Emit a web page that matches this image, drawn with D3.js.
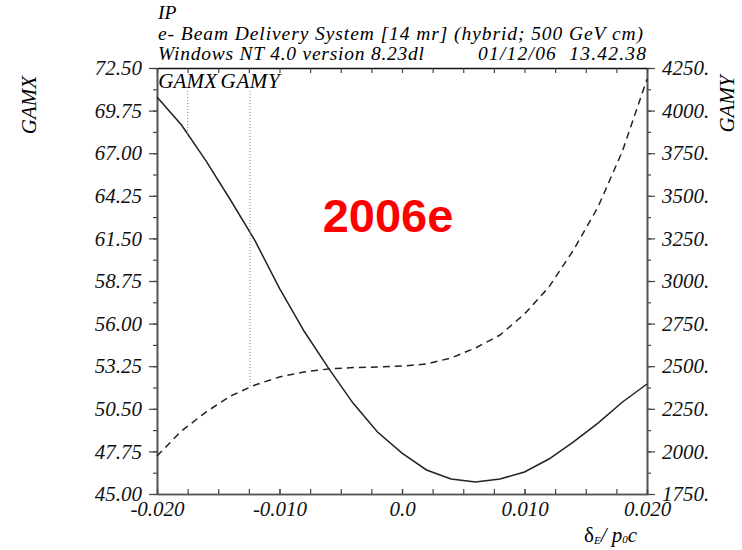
<!DOCTYPE html>
<html>
<head>
<meta charset="utf-8">
<script src="https://cdn.jsdelivr.net/npm/d3@7"></script>
<style>
  body { margin: 0; background: #fff; }
  svg text { font-family: "Liberation Serif", "DejaVu Serif", serif; font-style: italic; }
</style>
</head>
<body>
<div id="chart"></div>
<script>
!(function (d3) {

  // momentum deviation (x) and the two beam functions
  var deltaE = [-0.020, -0.018, -0.016, -0.014, -0.012, -0.010, -0.008, -0.006, -0.004, -0.002,
                 0.000,  0.002,  0.004,  0.006,  0.008,  0.010,  0.012,  0.014,  0.016,  0.018, 0.020];
  var gamx = [70.63, 68.82, 66.50, 63.98, 61.35, 58.27, 55.52, 53.13, 50.87, 49.00,
              47.64, 46.55, 45.97, 45.77, 45.97, 46.42, 47.26, 48.36, 49.58, 50.94, 52.10];
  var gamy = [1973, 2120, 2231, 2325, 2390, 2437, 2466, 2484, 2492, 2495,
              2501, 2513, 2548, 2607, 2683, 2806, 2965, 3182, 3434, 3763, 4185];

  var leftTicks  = [45.00, 47.75, 50.50, 53.25, 56.00, 58.75, 61.50, 64.25, 67.00, 69.75, 72.50];
  var rightTicks = [1750, 2000, 2250, 2500, 2750, 3000, 3250, 3500, 3750, 4000, 4250];
  var xTicks      = [-0.020, -0.010, 0.0, 0.010, 0.020];
  var xTickLabels = ["-0.020", "-0.010", "0.0", "0.010", "0.020"];

  // marker positions for the GAMX / GAMY labels
  var markers = [{name: "GAMX", x: -0.0175}, {name: "GAMY", x: -0.0124}];

  var titleLines = ["IP", "e- Beam Delivery System [14 mr] (hybrid; 500 GeV cm)", "Windows NT 4.0 version 8.23dl"];
  var titleWidths = [null, 485, 266];
  var stamp = "01/12/06  13.42.38";

  var margin = {top: 68, right: 95, bottom: 56, left: 157},
      width = 742 - margin.left - margin.right,
      height = 550 - margin.top - margin.bottom;

  var fs = "21px";

  var x = d3.scaleLinear().domain([-0.02, 0.02]).range([0, width]);
  var yL = d3.scaleLinear().domain([45, 72.5]).range([height, 0]);
  var yR = d3.scaleLinear().domain([1750, 4250]).range([height, 0]);

  var svg = d3.select("#chart").append("svg")
      .attr("width", 742)
      .attr("height", 550);
  var g = svg.append("g")
      .attr("transform", "translate(" + margin.left + "," + margin.top + ")");

  // header
  svg.selectAll(".title")
      .data(titleLines)
    .enter().append("text")
      .attr("x", margin.left + 1)
      .attr("y", function(d, i) { return 19 + i * 20.5; })
      .attr("textLength", function(d, i) { return titleWidths[i]; })
      .style("font-size", "19.5px")
      .text(function(d) { return d; });
  svg.append("text")
      .attr("x", margin.left + width - 169)
      .attr("y", 60)
      .attr("textLength", 168)
      .style("white-space", "pre")
      .style("font-size", "19.5px")
      .text(stamp);

  // minor ticks
  var minorL = d3.range(0, 21).map(function(i) { return 45 + i * 1.375; });
  var minorR = d3.range(0, 21).map(function(i) { return 1750 + i * 125; });
  var minorX = d3.range(0, 17).map(function(i) { return -0.02 + i * 0.0025; });

  function styleAxis(sel) {
    sel.select(".domain").attr("stroke", "#555").attr("stroke-width", 1.6);
    sel.selectAll(".tick line").attr("stroke", "#444").attr("stroke-width", 1.2);
    sel.selectAll("text").style("font-size", fs).attr("fill", "#111");
  }

  g.append("g")
      .call(d3.axisLeft(yL).tickValues(minorL).tickSize(4).tickSizeOuter(0).tickFormat(""))
      .call(styleAxis);
  g.append("g")
      .call(d3.axisLeft(yL).tickValues(leftTicks).tickSize(8).tickSizeOuter(0).tickPadding(7)
              .tickFormat(d3.format(".2f")))
      .call(styleAxis);

  g.append("g")
      .attr("transform", "translate(" + width + ",0)")
      .call(d3.axisRight(yR).tickValues(minorR).tickSize(4).tickSizeOuter(0).tickFormat(""))
      .call(styleAxis);
  g.append("g")
      .attr("transform", "translate(" + width + ",0)")
      .call(d3.axisRight(yR).tickValues(rightTicks).tickSize(8).tickSizeOuter(0).tickPadding(7)
              .tickFormat(function(d) { return d + "."; }))
      .call(styleAxis);

  g.append("g")
      .attr("transform", "translate(0," + height + ")")
      .call(d3.axisBottom(x).tickValues(minorX).tickSize(-5).tickSizeOuter(0).tickFormat(""))
      .call(styleAxis);
  g.append("g")
      .attr("transform", "translate(0," + height + ")")
      .call(d3.axisBottom(x).tickValues(xTicks).tickSize(-5).tickSizeOuter(0).tickPadding(7)
              .tickFormat(function(d, i) { return xTickLabels[i]; }))
      .call(styleAxis);

  g.append("g")
      .call(d3.axisTop(x).tickValues(minorX).tickSize(-5).tickSizeOuter(0).tickFormat(""))
      .call(styleAxis)
      .select(".domain").attr("stroke", "#111");

  // curves
  var pts = deltaE.map(function(d, i) { return {x: d, gx: gamx[i], gy: gamy[i]}; });

  g.append("path")
      .datum(pts)
      .attr("fill", "none")
      .attr("stroke", "#222")
      .attr("stroke-width", 1.5)
      .attr("d", d3.line().x(function(d) { return x(d.x); }).y(function(d) { return yL(d.gx); }));

  g.append("path")
      .datum(pts)
      .attr("fill", "none")
      .attr("stroke", "#222")
      .attr("stroke-width", 1.5)
      .attr("stroke-dasharray", "7,5")
      .attr("d", d3.line().x(function(d) { return x(d.x); }).y(function(d) { return yR(d.gy); }));

  // marker labels and dotted drop lines down to each curve
  function interp(arr, v) {
    var i = d3.bisectRight(deltaE, v) - 1;
    var t = (v - deltaE[i]) / (deltaE[i + 1] - deltaE[i]);
    return arr[i] + t * (arr[i + 1] - arr[i]);
  }
  markers.forEach(function(m, i) {
    var yEnd = i === 0 ? yL(interp(gamx, m.x)) : yR(interp(gamy, m.x));
    g.append("line")
        .attr("x1", x(m.x)).attr("x2", x(m.x))
        .attr("y1", 23).attr("y2", yEnd)
        .attr("stroke", "#888")
        .attr("stroke-width", 1)
        .attr("stroke-dasharray", "1,2");
    g.append("text")
        .attr("x", x(m.x))
        .attr("y", 20)
        .attr("text-anchor", "middle")
        .attr("textLength", 59)
        .style("font-size", fs)
        .text(m.name);
  });

  // axis titles
  svg.append("text")
      .attr("transform", "translate(36,105) rotate(-90)")
      .attr("text-anchor", "middle")
      .style("font-size", fs)
      .text("GAMX");
  svg.append("text")
      .attr("transform", "translate(734,104) rotate(-90)")
      .attr("text-anchor", "middle")
      .style("font-size", fs)
      .text("GAMY");

  var xl = svg.append("text")
      .attr("x", 584)
      .attr("y", 542)
      .style("font-size", fs);
  xl.append("tspan").style("font-style", "normal").text("δ");
  xl.append("tspan").attr("dy", 2).style("font-size", "11px").text("E");
  xl.append("tspan").attr("dy", -2).text("/ p");
  xl.append("tspan").attr("dy", 1).style("font-size", "11px").text("0");
  xl.append("tspan").attr("dy", -1).text("c");

  // stamp
  svg.append("text")
      .attr("x", 388)
      .attr("y", 232)
      .attr("text-anchor", "middle")
      .attr("fill", "#ff0000")
      .style("font-family", "'Liberation Sans', Arial, sans-serif")
      .style("font-style", "normal")
      .style("font-weight", "bold")
      .style("font-size", "47px")
      .text("2006e");

})(d3);
</script>
</body>
</html>
